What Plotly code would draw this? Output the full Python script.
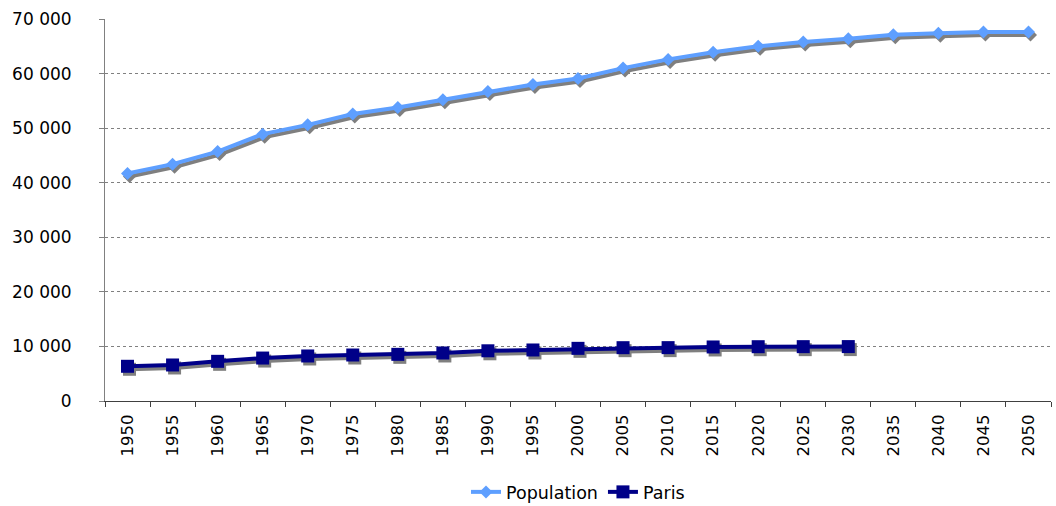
import plotly.graph_objects as go

years = list(range(1950, 2051, 5))
year_labels = [str(y) for y in years]

population = [41700, 43400, 45700, 48900, 50600, 52600, 53800, 55200, 56700, 58000,
              59100, 61000, 62600, 63900, 65000, 65800, 66400, 67100, 67400, 67600, 67600]

paris = [6360, 6600, 7270, 7870, 8250, 8430, 8550, 8800, 9200, 9350,
         9650, 9770, 9780, 9900, 9950, 9960, 9970]
paris_years = years[:len(paris)]

y_ticks = [0, 10000, 20000, 30000, 40000, 50000, 60000, 70000]

FONT = "DejaVu Sans, Verdana, sans-serif"
POP_COLOR = "#5E9FFF"
PARIS_COLOR = "#000088"
SHADOW = "#7F7F7F"

X_RANGE = [1947.5, 2052.5]
Y_RANGE = [0, 70000]
PLOT_W, PLOT_H = 946, 382

# drop shadow: 2 px right, 3 px down, converted to data units
sx = 2 * (X_RANGE[1] - X_RANGE[0]) / PLOT_W
sy = 3 * (Y_RANGE[1] - Y_RANGE[0]) / PLOT_H


def shadow(xs, ys, symbol, size):
    return go.Scatter(x=[x + sx for x in xs], y=[y - sy for y in ys], mode="lines+markers",
                      line=dict(color=SHADOW, width=4),
                      marker=dict(symbol=symbol, size=size, color=SHADOW),
                      showlegend=False, hoverinfo="skip")


fig = go.Figure()
fig.add_trace(shadow(years, population, "diamond", 10))
fig.add_trace(shadow(paris_years, paris, "square", 13))

fig.add_trace(go.Scatter(x=years, y=population, mode="lines+markers", name="Population",
                         line=dict(color=POP_COLOR, width=4),
                         marker=dict(symbol="diamond", size=10, color=POP_COLOR)))
fig.add_trace(go.Scatter(x=paris_years, y=paris, mode="lines+markers", name="Paris",
                         line=dict(color=PARIS_COLOR, width=4),
                         marker=dict(symbol="square", size=13, color=PARIS_COLOR)))

# category boundaries for the x tick marks
boundaries = [y - 2.5 for y in years] + [years[-1] + 2.5]

fig.update_layout(
    width=1056, height=506,
    margin=dict(l=105, r=5, t=19, b=105, autoexpand=False),
    paper_bgcolor="white", plot_bgcolor="white",
    font=dict(family=FONT, size=17, color="black"),
    separators=", ",
    xaxis=dict(range=X_RANGE, tickmode="array", tickvals=years, ticktext=year_labels,
               tickangle=-90, ticks="", showline=True, linecolor="#404040", linewidth=1,
               showgrid=False, zeroline=False, tickfont=dict(size=16.5), automargin=False,
               ticklabelstandoff=6,
               minor=dict(tickmode="array", tickvals=boundaries, ticks="outside",
                          ticklen=5, tickcolor="#404040", showgrid=False)),
    yaxis=dict(range=Y_RANGE, tickmode="array", tickvals=y_ticks, tickformat=",d",
               ticks="outside", ticklen=5, tickcolor="#808080",
               showline=True, linecolor="#808080", linewidth=1,
               showgrid=True, gridcolor="#808080", griddash="3px,3px", gridwidth=1,
               zeroline=False, tickfont=dict(size=17), automargin=False,
               ticklabelstandoff=24),
    legend=dict(orientation="h", x=0.5, xanchor="center", yref="container",
                y=14 / 506, yanchor="middle", font=dict(size=17.5)),
    showlegend=True,
)

fig.write_html("out.html")
